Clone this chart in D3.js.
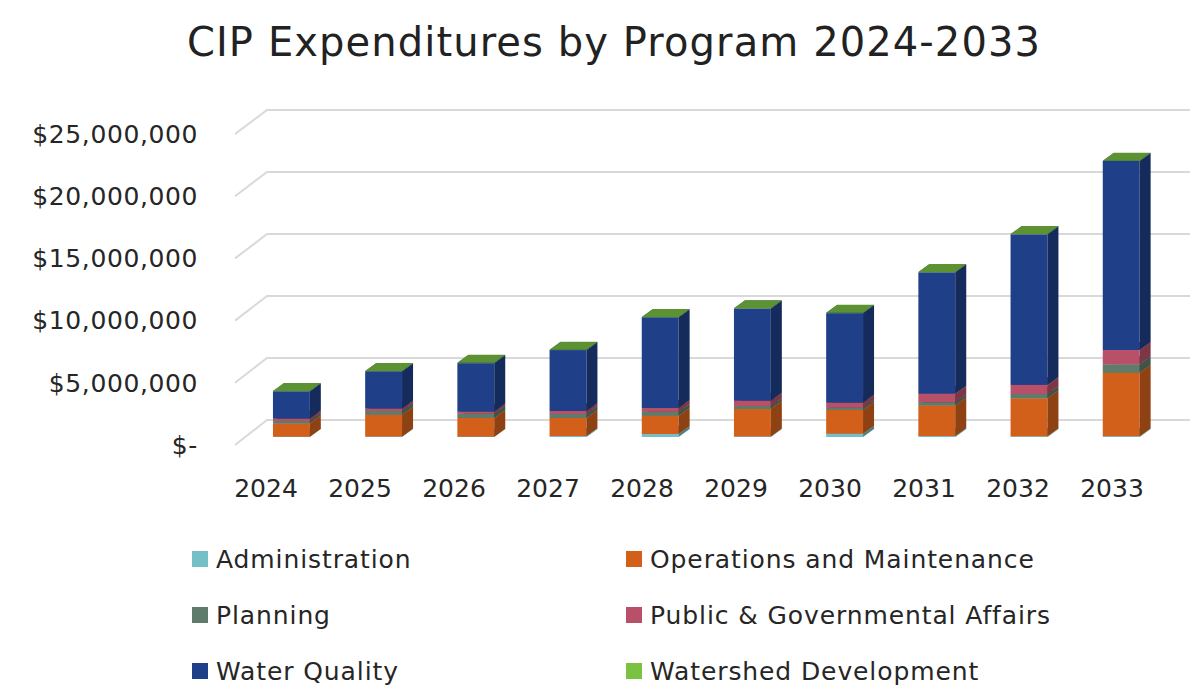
<!DOCTYPE html>
<html>
<head>
<meta charset="utf-8">
<script src="https://cdn.jsdelivr.net/npm/d3@7"></script>
<style>
  body { margin: 0; background: #fff; }
  svg { font-family: 'DejaVu Sans', Verdana, sans-serif; }
</style>
</head>
<body>
<svg id="chart" width="1200" height="689"></svg>
<script>
// chart values (dollars)
const years = ['2024', '2025', '2026', '2027', '2028', '2029', '2030', '2031', '2032', '2033']
const administration = [30000, 40000, 30000, 80000, 240000, 50000, 270000, 80000, 60000, 70000]
const operations = [1050000, 1750000, 1500000, 1450000, 1470000, 2200000, 1900000, 2450000, 3050000, 5100000]
const planning = [200000, 300000, 350000, 320000, 320000, 240000, 190000, 270000, 350000, 670000]
const publicAffairs = [200000, 200000, 160000, 240000, 300000, 430000, 400000, 680000, 730000, 1150000]
const waterQuality = [2200000, 3000000, 3900000, 4900000, 7300000, 7400000, 7200000, 9760000, 12100000, 15200000]
const watershed = [20000, 20000, 20000, 20000, 20000, 20000, 20000, 20000, 20000, 20000]
const yTicks = [0, 5000000, 10000000, 15000000, 20000000, 25000000]

const seriesNames = ['Administration', 'Operations and Maintenance', 'Planning',
  'Public & Governmental Affairs', 'Water Quality', 'Watershed Development']
const seriesKeys = ['admin', 'ops', 'plan', 'pub', 'wq', 'ws']
const colors = ['#74c0c6', '#d2601a', '#5f7b6b', '#b9506a', '#1f4088', '#7cc242']

let rows = years.map((y, i) => ({
  year: y,
  admin: administration[i],
  ops: operations[i],
  plan: planning[i],
  pub: publicAffairs[i],
  wq: waterQuality[i],
  ws: watershed[i]
}))

const svg = d3.select('#chart')

// 3D geometry
const floorDx = 32, floorDy = -25
const barDx = 11, barDy = -8

const yFront = d3.scaleLinear().domain([0, 25000000]).range([445, 134])
const yBack = d3.scaleLinear().domain([0, 25000000]).range([420, 110])
const yBar = d3.scaleLinear().domain([0, 25000000]).range([437, 126])

const xBar = d3.scaleBand().domain(years).range([245.3, 1167.3])
  .paddingInner(0.6).paddingOuter(0.3)
const xLabel = d3.scalePoint().domain(years).range([266, 1112])

const wallLeft = 235, wallRight = 1190

// title
svg.append('text')
  .attr('x', 614)
  .attr('y', 56)
  .attr('text-anchor', 'middle')
  .attr('font-size', 40)
  .attr('letter-spacing', 1.1)
  .attr('fill', '#222')
  .text('CIP Expenditures by Program 2024-2033')

// gridlines: left wall diagonal + back wall
let grid = svg.append('g')
grid.selectAll('path')
  .data(yTicks)
  .enter()
  .append('path')
  .attr('d', d => `M${wallLeft},${yFront(d)} L${wallLeft + floorDx},${yBack(d)} L${wallRight},${yBack(d)}`)
  .attr('fill', 'none')
  .attr('stroke', '#d9d9d9')
  .attr('stroke-width', 2)

// y labels
const fmt = d => d === 0 ? '$-' : '$' + d3.format(',')(d)
svg.append('g').selectAll('text')
  .data(yTicks)
  .enter()
  .append('text')
  .attr('x', 198)
  .attr('y', d => yFront(d))
  .attr('dy', '0.35em')
  .attr('text-anchor', 'end')
  .attr('font-size', 25)
  .attr('letter-spacing', 0.6)
  .attr('fill', '#262626')
  .text(fmt)

// stacked 3D bars
const stacked = d3.stack().keys(seriesKeys)(rows)
const w = xBar.bandwidth()

years.forEach((year, i) => {
  let g = svg.append('g')
  stacked.forEach((layer, k) => {
    let seg = layer[i]
    let x = xBar(year)
    let y0 = yBar(seg[0])
    let y1 = yBar(seg[1])
    let c = colors[k]
    // front
    g.append('rect')
      .attr('x', x)
      .attr('y', y1)
      .attr('width', w)
      .attr('height', Math.max(0, y0 - y1))
      .attr('fill', c)
    // side
    g.append('path')
      .attr('d', `M${x + w},${y0} L${x + w + barDx},${y0 + barDy} L${x + w + barDx},${y1 + barDy} L${x + w},${y1} Z`)
      .attr('fill', d3.color(c).darker(1.1))
    // top
    g.append('path')
      .attr('d', `M${x},${y1} L${x + barDx},${y1 + barDy} L${x + w + barDx},${y1 + barDy} L${x + w},${y1} Z`)
      .attr('fill', d3.color(c).darker(0.8))
  })
})

// x labels
svg.append('g').selectAll('text')
  .data(years)
  .enter()
  .append('text')
  .attr('x', d => xLabel(d))
  .attr('y', 497)
  .attr('text-anchor', 'middle')
  .attr('font-size', 25)
  .attr('fill', '#262626')
  .text(d => d)

// legend
let legend = svg.append('g')
let items = legend.selectAll('g')
  .data(seriesNames)
  .enter()
  .append('g')
  .attr('transform', (d, i) => `translate(${i % 2 === 0 ? 192 : 626},${559 + Math.floor(i / 2) * 56})`)

items.append('rect')
  .attr('x', 0)
  .attr('y', -8)
  .attr('width', 16)
  .attr('height', 16)
  .attr('fill', (d, i) => colors[i])

items.append('text')
  .attr('x', 24)
  .attr('y', 0)
  .attr('dy', '0.35em')
  .attr('font-size', 25)
  .attr('letter-spacing', 0.9)
  .attr('fill', '#262626')
  .text(d => d)
</script>
</body>
</html>
